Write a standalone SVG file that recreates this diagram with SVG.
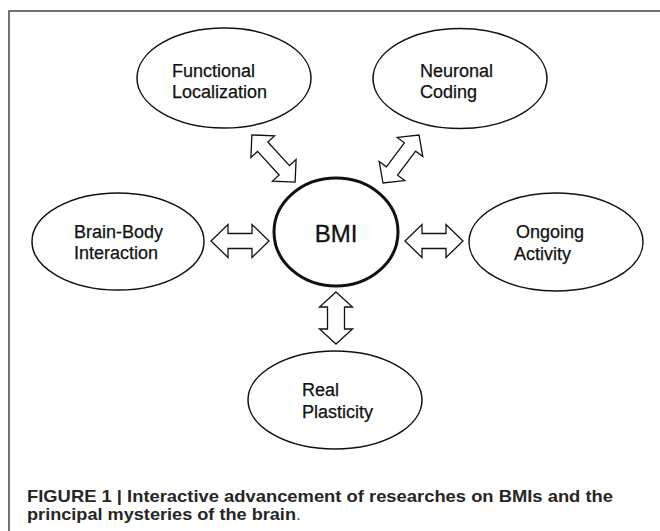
<svg xmlns="http://www.w3.org/2000/svg" width="660" height="531" viewBox="0 0 660 531">
  <style>
    .bg { fill: #ffffff; }
    .frame { fill: none; stroke: #444444; stroke-width: 1.5; }
    .node { fill: #ffffff; stroke: #111111; stroke-width: 1.5; }
    .hub { fill: #ffffff; stroke: #111111; stroke-width: 3; }
    .lbl { font-family: "Liberation Sans", Arial, Helvetica, sans-serif; font-size: 18px; fill: #111111; stroke: #111111; stroke-width: 0.25; }
    .hubl { font-family: "Liberation Sans", Arial, Helvetica, sans-serif; font-size: 24px; fill: #111111; stroke: #111111; stroke-width: 0.3; }
    .arrow { fill: #ffffff; stroke: #111111; stroke-width: 1.3; stroke-linejoin: miter; }
    .cap { font-family: "Liberation Sans", Arial, Helvetica, sans-serif; font-size: 17px; font-weight: bold; fill: #262626; }
    .capdot { font-family: "Liberation Sans", Arial, Helvetica, sans-serif; font-size: 17px; fill: #555555; }
  </style>
  <rect class="bg" x="0" y="0" width="660" height="531"/>
  <path class="frame" d="M9,531 L9,11 L660,11"/>

  <g id="connectors">
    <path class="arrow" transform="translate(240,241)" d="M-29,0 L-12,-16.5 L-12,-7.5 L12,-7.5 L12,-16.5 L29,0 L12,16.5 L12,7.5 L-12,7.5 L-12,16.5 Z"/>
    <path class="arrow" transform="translate(434,241)" d="M-29,0 L-12,-16.5 L-12,-7.5 L12,-7.5 L12,-16.5 L29,0 L12,16.5 L12,7.5 L-12,7.5 L-12,16.5 Z"/>
    <path class="arrow" transform="translate(336,318) rotate(90)" d="M-26,0 L-11,-16.5 L-11,-8.5 L11,-8.5 L11,-16.5 L26,0 L11,16.5 L11,8.5 L-11,8.5 L-11,16.5 Z"/>
    <path class="arrow" transform="translate(273.5,158.5) rotate(47.5)" d="M-32,0 L-16,-16 L-16,-7 L16,-7 L16,-16 L32,0 L16,16 L16,7 L-16,7 L-16,16 Z"/>
    <path class="arrow" transform="translate(401,159) rotate(-53.1)" d="M-30,0 L-15,-16 L-15,-7 L15,-7 L15,-16 L30,0 L15,16 L15,7 L-15,7 L-15,16 Z"/>
  </g>

  <g id="functional-localization">
    <ellipse class="node" cx="224" cy="78" rx="87" ry="50"/>
    <text class="lbl" x="172" y="77">Functional</text>
    <text class="lbl" x="172" y="98">Localization</text>
  </g>

  <g id="neuronal-coding">
    <ellipse class="node" cx="460" cy="78.5" rx="87" ry="50"/>
    <text class="lbl" x="420" y="77">Neuronal</text>
    <text class="lbl" x="420" y="98">Coding</text>
  </g>

  <g id="brain-body-interaction">
    <ellipse class="node" cx="118" cy="241.5" rx="86" ry="48.5"/>
    <text class="lbl" x="74" y="238">Brain-Body</text>
    <text class="lbl" x="74" y="259">Interaction</text>
  </g>

  <g id="bmi">
    <ellipse class="hub" cx="336" cy="232" rx="62" ry="54"/>
    <text class="hubl" x="336" y="242" text-anchor="middle">BMI</text>
  </g>

  <g id="ongoing-activity">
    <ellipse class="node" cx="556" cy="242" rx="87" ry="49"/>
    <text class="lbl" x="516" y="238">Ongoing</text>
    <text class="lbl" x="514" y="260">Activity</text>
  </g>

  <g id="real-plasticity">
    <ellipse class="node" cx="335" cy="400" rx="87" ry="49"/>
    <text class="lbl" x="302" y="396">Real</text>
    <text class="lbl" x="302" y="418">Plasticity</text>
  </g>

  <g id="caption">
    <text class="cap" x="27" y="502" textLength="586" lengthAdjust="spacingAndGlyphs">FIGURE 1 | Interactive advancement of researches on BMIs and the</text>
    <text class="cap" x="27" y="520" textLength="269" lengthAdjust="spacingAndGlyphs">principal mysteries of the brain</text>
    <text class="capdot" x="296" y="520">.</text>
  </g>
</svg>
